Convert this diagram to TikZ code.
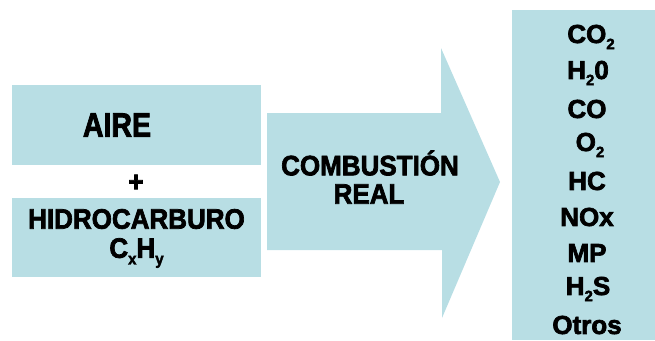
\documentclass[tikz,border=0pt]{standalone}
\usepackage{graphicx}
\usepackage{fontspec}
\setmainfont{Liberation Sans}[BoldFeatures={FakeBold=2.6}]
\definecolor{boxblue}{RGB}{184,222,228}
\newcommand{\mysub}[1]{\raisebox{-0.45ex}{\fontsize{15}{15}\selectfont #1}}
\tikzset{
  bluebox/.style={fill=boxblue, draw=none, inner sep=0pt, rectangle},
  lbl/.style={font=\bfseries, text=black, inner sep=0pt, anchor=center},
  big/.style={lbl, font=\bfseries\fontsize{28.5}{28.5}\selectfont},
  mid/.style={lbl, font=\bfseries\fontsize{26}{26}\selectfont},
  lst/.style={lbl, font=\bfseries\fontsize{26}{26}\selectfont}
}
\begin{document}
\begin{tikzpicture}[x=1pt,y=-1pt]
\useasboundingbox (0,0) rectangle (655,340);
% left boxes
\node[bluebox, minimum width=249pt, minimum height=80pt] (aire) at (136.5,125) {};
\node[bluebox, minimum width=249pt, minimum height=79pt] (hidro) at (136.5,237.5) {};
% arrow
\fill[boxblue] (267,113) -- (441,113) -- (441,48) -- (500,182) -- (442,318) -- (442,250) -- (267,250) -- cycle;
\coordinate (arrowc) at (370,180);
% right box
\node[bluebox, minimum width=143pt, minimum height=330pt] (out) at (583.5,175) {};
% texts
\node[big] (taire) at (117,125) {\scalebox{1}[1.18]{AIRE}};
\node[mid] (plus) at (136,183) {\scalebox{1}[1.1]{+}};
\node[mid] (thidro) at (136.5,219) {\scalebox{1}[1.08]{HIDROCARBURO}};
\node[mid] (tcxhy) at (136.5,253) {\scalebox{1}[1.08]{C\mysub{x}H\mysub{y}}};
\node[mid] (tcomb) at (370,163) {\scalebox{1}[1.08]{COMBUSTIÓN}};
\node[mid] (treal) at (369,194) {\scalebox{1}[1.08]{REAL}};
\node[lst] (l1) at (591,37) {CO\mysub{2}};
\node[lst] (l2) at (588,73) {H\mysub{2}0};
\node[lst] (l3) at (587,109) {CO};
\node[lst] (l4) at (590,145) {O\mysub{2}};
\node[lst] (l5) at (587,181) {HC};
\node[lst] (l6) at (587,217) {NOx};
\node[lst] (l7) at (587,253) {MP};
\node[lst] (l8) at (588,289) {H\mysub{2}S};
\node[lst] (l9) at (587,325) {Otros};
\end{tikzpicture}
\end{document}
